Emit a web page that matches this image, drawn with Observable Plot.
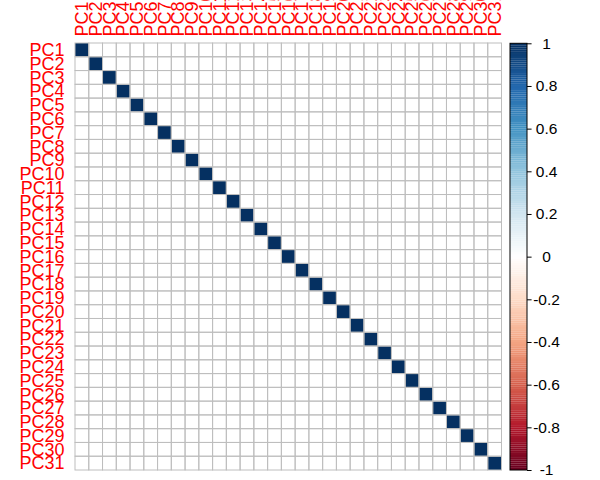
<!DOCTYPE html>
<html>
<head>
<meta charset="utf-8">
<script src="https://cdn.jsdelivr.net/npm/d3@7"></script>
<script src="https://cdn.jsdelivr.net/npm/@observablehq/plot@0.6"></script>
<style>
  html, body { margin: 0; padding: 0; background: #fff; }
  #wrap { position: relative; width: 600px; height: 480px; overflow: hidden; }
  #wrap svg { position: absolute; left: 0; top: 0; }
</style>
</head>
<body>
<div id="wrap"></div>
<script>
// Variable names (rows and columns)
const variables = ["PC1","PC2","PC3","PC4","PC5","PC6","PC7","PC8","PC9","PC10",
  "PC11","PC12","PC13","PC14","PC15","PC16","PC17","PC18","PC19","PC20",
  "PC21","PC22","PC23","PC24","PC25","PC26","PC27","PC28","PC29","PC30","PC31"];
// Correlation on the diagonal and off the diagonal
const diagonalValues = [1,1,1,1,1,1,1,1,1,1,1,1,1,1,1,1,1,1,1,1,1,1,1,1,1,1,1,1,1,1,1];
const offDiagonalValue = 0;
// Colour bar tick labels
const colorbarTicks = [1, 0.8, 0.6, 0.4, 0.2, 0, -0.2, -0.4, -0.6, -0.8, -1];
// corrplot RdBu palette
const palette = ["#67001F","#B2182B","#D6604D","#F4A582","#FDDBC7","#FFFFFF",
  "#D1E5F0","#92C5DE","#4393C3","#2166AC","#053061"];

const cells = [];
variables.forEach((r, i) => variables.forEach((c, j) => {
  cells.push({row: r, col: c, value: i === j ? diagonalValues[i] : offDiagonalValue});
}));

const colorScale = {type: "linear", domain: [-1, 1], interpolate: d3.piecewise(d3.interpolateRgb, palette)};
const font = "Liberation Sans, Arial, sans-serif";

const main = Plot.plot({
  width: 600, height: 480,
  marginLeft: 75, marginRight: 98.5, marginTop: 43, marginBottom: 10,
  style: {fontFamily: font, background: "transparent"},
  x: {type: "band", domain: variables, padding: 0, round: false, axis: null},
  y: {type: "band", domain: variables, padding: 0, round: false, axis: null},
  color: colorScale,
  marks: [
    Plot.cell(cells, {x: "col", y: "row", fill: "value"}),
    Plot.cell(cells, {x: "col", y: "row", fill: "none", stroke: "#BEBEBE", strokeWidth: 1}),
    Plot.axisY({anchor: "left", tickSize: 0, tickPadding: 11, fontSize: 18, color: "red", label: null}),
    Plot.text(variables, {x: d => d, frameAnchor: "top", dy: -7, rotate: -90, textAnchor: "start",
      lineAnchor: "middle", fontSize: 18, fill: "red", text: d => d})
  ]
});

const steps = d3.range(-1, 1, 0.01);
const bar = Plot.plot({
  width: 600, height: 480,
  style: {fontFamily: font, background: "transparent"},
  x: {domain: [0, 1], range: [510, 527], axis: null},
  y: {domain: [-1, 1], range: [470, 43.3], axis: null},
  color: colorScale,
  marks: [
    Plot.rect(steps, {x1: 0, x2: 1, y1: d => d, y2: d => Math.min(1, d + 0.0105), fill: d => d + 0.005}),
    Plot.rect([0], {x1: 0, x2: 1, y1: -1, y2: 1, fill: "none", stroke: "black", strokeWidth: 1}),
    Plot.ruleY(colorbarTicks, {x1: 1, x2: 1.27, y: d => d, stroke: "black"}),
    Plot.text(colorbarTicks, {x: 2.12, y: d => d, text: d => String(d), fontSize: 15.5, fill: "black", textAnchor: "middle"})
  ]
});

const wrap = document.getElementById("wrap");
wrap.appendChild(main);
wrap.appendChild(bar);
</script>
</body>
</html>
